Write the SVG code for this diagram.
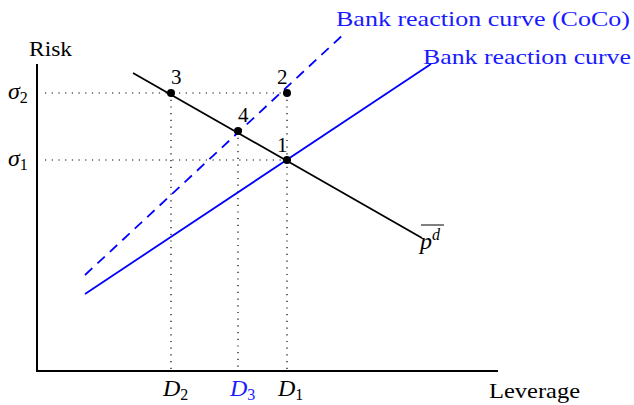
<svg xmlns="http://www.w3.org/2000/svg" width="634" height="405" viewBox="0 0 634 405">
<style>
text{font-family:"Liberation Serif","Times New Roman",serif;font-size:21px;fill:#000}
.it{font-style:italic}
.m{font-size:24px}
.blue{fill:#1a1aff}
.sub{font-size:16px}
.dot{stroke:#000;stroke-width:1.2;stroke-dasharray:1.2 5.5;fill:none}
</style>
<rect width="634" height="405" fill="#fff"/>
<g id="axes" stroke="#000" stroke-width="2" fill="none">
<path d="M37,64 V371 H498"/>
</g>
<g id="connectors">
<path class="dot" d="M45,93 H287 M45,160 H287 M171,93 V371 M238,131 V371 M287,93 V371"/>
<line x1="133" y1="73" x2="422" y2="238" stroke="#000" stroke-width="1.8"/>
<line x1="85" y1="294" x2="431" y2="64" stroke="#0000ff" stroke-width="1.8"/>
<line x1="85" y1="275" x2="346" y2="32" stroke="#0000ff" stroke-width="1.8" stroke-dasharray="10 7"/>
</g>
<g id="points" fill="#000">
<circle id="p1" cx="287" cy="160" r="4"/>
<circle id="p2" cx="287" cy="93" r="4"/>
<circle id="p3" cx="171" cy="93" r="4"/>
<circle id="p4" cx="238" cy="131" r="4"/>
</g>
<g id="labels">
<text x="29" y="56" textLength="43" lengthAdjust="spacingAndGlyphs">Risk</text>
<text x="8" y="99" class="it m">σ<tspan class="sub" font-style="normal" dy="4">2</tspan></text>
<text x="8" y="166" class="it m">σ<tspan class="sub" font-style="normal" dy="4">1</tspan></text>
<text x="171" y="84">3</text>
<text x="277" y="84">2</text>
<text x="238" y="122">4</text>
<text x="277" y="152">1</text>
<text x="336" y="26" class="blue" textLength="294" lengthAdjust="spacingAndGlyphs">Bank reaction curve (CoCo)</text>
<text x="423" y="64" class="blue" textLength="208" lengthAdjust="spacingAndGlyphs">Bank reaction curve</text>
<text x="420" y="249" class="it m">p<tspan class="sub" dy="-9">d</tspan></text>
<line x1="421" y1="225" x2="444" y2="225" stroke="#000" stroke-width="1"/>
<text x="163" y="396" class="it m">D<tspan class="sub" font-style="normal" dy="4">2</tspan></text>
<text x="230" y="396" class="it m blue">D<tspan class="sub blue" font-style="normal" dy="4">3</tspan></text>
<text x="278" y="396" class="it m">D<tspan class="sub" font-style="normal" dy="4">1</tspan></text>
<text x="489" y="398" textLength="91" lengthAdjust="spacingAndGlyphs">Leverage</text>
</g>
</svg>
